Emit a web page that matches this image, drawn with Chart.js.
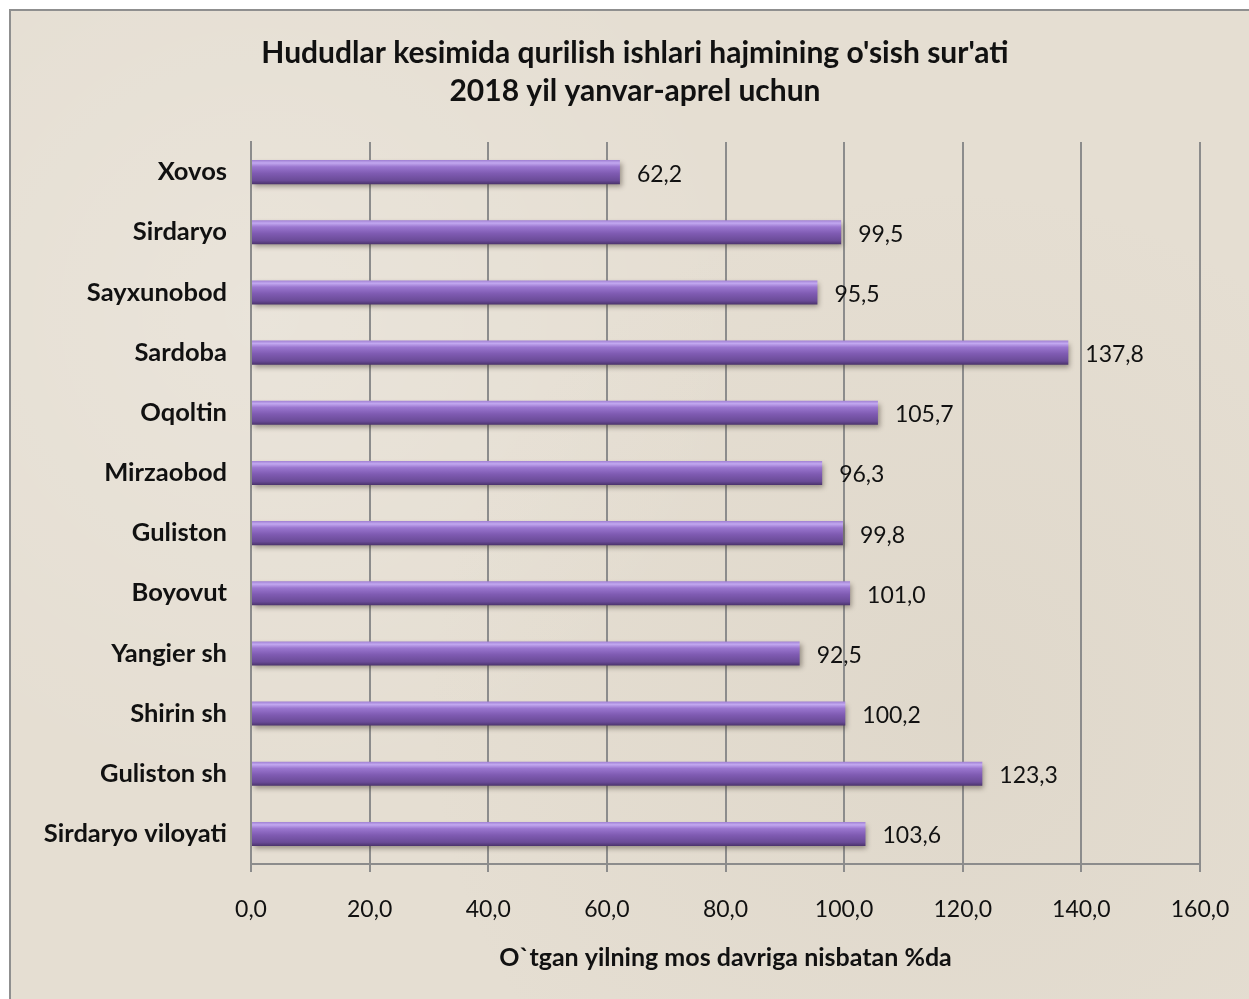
<!DOCTYPE html>
<html>
<head>
<meta charset="utf-8">
<script src="https://cdn.jsdelivr.net/npm/chart.js@4/dist/chart.umd.min.js"></script>
<style>
  html, body { margin: 0; padding: 0; width: 1249px; height: 999px; overflow: hidden;
    background: #ffffff; }
  #frame { position: absolute; left: 9px; top: 9px; width: 1260px; height: 1010px;
    border: 2px solid #8f8f8f; box-sizing: border-box;
    background:
      radial-gradient(circle at 20% 30%, rgba(255,255,255,0.18), rgba(255,255,255,0) 40%),
      radial-gradient(circle at 75% 70%, rgba(180,170,150,0.12), rgba(0,0,0,0) 45%),
      #e5ded2; }
  #wrap { position: absolute; left: 0; top: 0; width: 1249px; height: 999px; }
</style>
</head>
<body>
<div id="frame"></div>
<div id="wrap"><canvas id="c" width="1249" height="999"></canvas></div>
<script>
const titleLines = ["Hududlar kesimida qurilish ishlari hajmining o'sish sur'ati", "2018 yil yanvar-aprel uchun"];
const categories = ["Xovos", "Sirdaryo", "Sayxunobod", "Sardoba", "Oqoltin", "Mirzaobod", "Guliston", "Boyovut", "Yangier sh", "Shirin sh", "Guliston sh", "Sirdaryo viloyati"];
const values = [62.2, 99.5, 95.5, 137.8, 105.7, 96.3, 99.8, 101.0, 92.5, 100.2, 123.3, 103.6];
const xTicks = [0, 20, 40, 60, 80, 100, 120, 140, 160];
const xAxisTitle = "O`tgan yilning mos davriga nisbatan %da";

const fmt = v => Number(v).toFixed(1).replace('.', ',');
const FONT = 'Lato';

function barGradient(context) {
  const chart = context.chart;
  const ys = chart.scales && chart.scales.y;
  if (!ys || ys.top === undefined) return '#7d5aaf';
  const cy = ys.getPixelForValue(context.dataIndex);
  const h = 24;
  const g = chart.ctx.createLinearGradient(0, cy - h / 2, 0, cy + h / 2);
  g.addColorStop(0.00, '#9f7fd2');
  g.addColorStop(0.12, '#c2a8f0');
  g.addColorStop(0.28, '#9a76cf');
  g.addColorStop(0.55, '#7f5bb2');
  g.addColorStop(0.85, '#6a4b97');
  g.addColorStop(1.00, '#4b336c');
  return g;
}

const shadowPlugin = {
  id: 'barShadow',
  beforeDatasetsDraw(chart) {
    const ctx = chart.ctx;
    ctx.save();
    ctx.shadowColor = 'rgba(60,50,40,0.45)';
    ctx.shadowBlur = 5;
    ctx.shadowOffsetX = 2;
    ctx.shadowOffsetY = 3;
  },
  afterDatasetsDraw(chart) {
    chart.ctx.restore();
  }
};

const labelPlugin = {
  id: 'valueLabels',
  afterDatasetsDraw(chart) {
    const ctx = chart.ctx;
    const meta = chart.getDatasetMeta(0);
    ctx.save();
    ctx.font = '23px ' + FONT;
    ctx.fillStyle = '#111';
    ctx.textAlign = 'left';
    ctx.textBaseline = 'middle';
    meta.data.forEach((el, i) => {
      ctx.fillText(fmt(chart.data.datasets[0].data[i]), el.x + 17, el.y + 2);
    });
    ctx.restore();
  }
};

// shift the title block so that it is centred like the reference
const titleShift = {
  id: 'titleShift',
  afterLayout(chart) {
    const t = chart.titleBlock;
    if (t) { t.left = 70; t.right = 1200; t.width = 1130; }
  }
};

new Chart(document.getElementById('c'), {
  type: 'bar',
  data: {
    labels: categories,
    datasets: [{
      data: values,
      backgroundColor: barGradient,
      borderWidth: 0,
      barPercentage: 0.4,
      categoryPercentage: 1.0
    }]
  },
  plugins: [shadowPlugin, labelPlugin, titleShift],
  options: {
    indexAxis: 'y',
    responsive: false,
    animation: false,
    devicePixelRatio: 1,
    layout: { padding: { left: 20, right: 49, top: 0, bottom: 0 } },
    plugins: {
      legend: { display: false },
      tooltip: { enabled: false },
      title: {
        display: true,
        text: titleLines,
        color: '#111',
        font: { family: FONT, size: 30, weight: 'bold', lineHeight: 1.267 },
        padding: { top: 34, bottom: 32 }
      }
    },
    scales: {
      x: {
        min: 0, max: 160,
        afterBuildTicks(scale) { scale.ticks = xTicks.map(v => ({ value: v })); },
        afterFit(scale) { scale.height = 135; scale.paddingLeft = 0; scale.paddingRight = 0; },
        ticks: {
          callback: v => fmt(v),
          color: '#111',
          font: { family: FONT, size: 23 },
          padding: 24,
          maxRotation: 0
        },
        grid: { color: '#8c8c8c', lineWidth: 2, tickLength: 8, drawTicks: true },
        border: { display: true, color: '#8c8c8c', width: 2 },
        title: {
          display: true,
          text: xAxisTitle,
          color: '#111',
          font: { family: FONT, size: 25, weight: 'bold' },
          padding: { top: 0, bottom: 26 }
        }
      },
      y: {
        afterFit(scale) { scale.width = 231; scale.paddingTop = 0; scale.paddingBottom = 0; },
        ticks: {
          color: '#111',
          font: { family: FONT, size: 25.5, weight: 'bold' },
          padding: 24
        },
        grid: { display: false, drawTicks: false },
        border: { display: true, color: '#8c8c8c', width: 2 }
      }
    }
  }
});
</script>
</body>
</html>
